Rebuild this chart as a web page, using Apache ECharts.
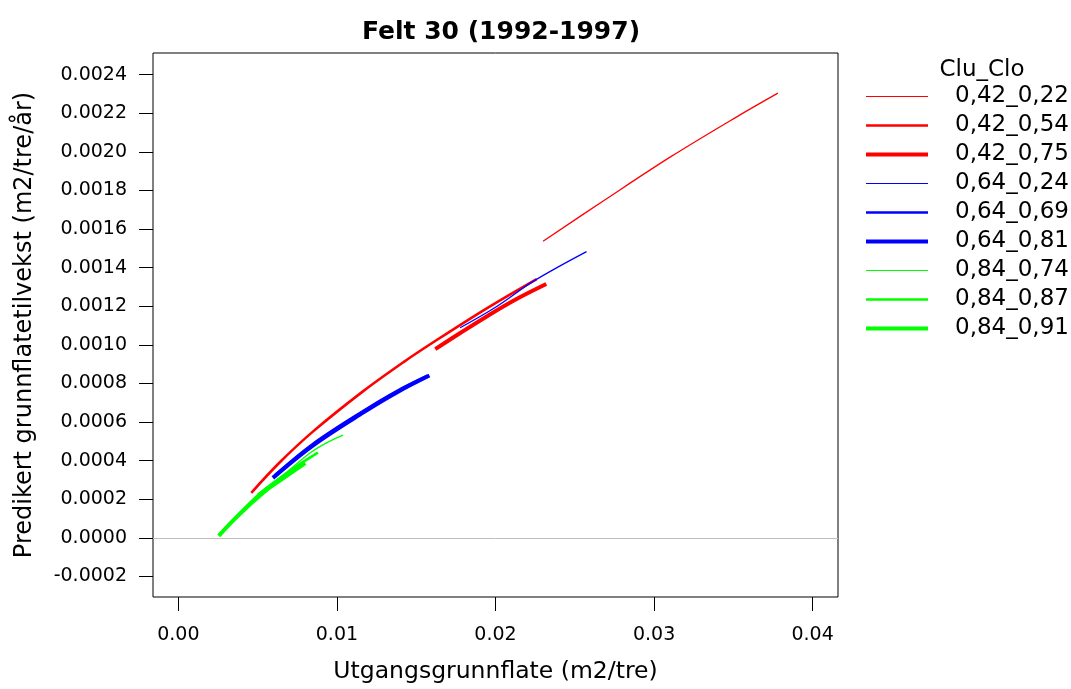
<!DOCTYPE html>
<html>
<head>
<meta charset="utf-8">
<script src="https://cdn.jsdelivr.net/npm/echarts@6/dist/echarts.min.js"></script>
<style>
html,body{margin:0;padding:0;background:#fff;}
#chart{width:1071px;height:689px;}
</style>
</head>
<body>
<div id="chart"></div>
<script>
// ---- data ----
var seriesNames = ['0,42_0,22','0,42_0,54','0,42_0,75','0,64_0,24','0,64_0,69','0,64_0,81','0,84_0,74','0,84_0,87','0,84_0,91'];

var x_042_022 = [0.02300, 0.02684, 0.03106, 0.03527, 0.03781];
var y_042_022 = [0.001537, 0.001748, 0.001975, 0.002184, 0.002304];

var x_042_054 = [0.00460, 0.00640, 0.00850, 0.01170, 0.01420, 0.01610, 0.01950, 0.02260];
var y_042_054 = [0.000234, 0.000392, 0.000552, 0.000763, 0.000911, 0.001015, 0.001192, 0.001341];

var x_042_075 = [0.01620, 0.01780, 0.01950, 0.02130, 0.02320];
var y_042_075 = [0.000978, 0.001063, 0.001150, 0.001236, 0.001315];

var x_064_024 = [0.01777, 0.02000, 0.02240, 0.02574];
var y_064_024 = [0.001089, 0.001195, 0.001330, 0.001483];

var x_064_069 = [0.00610, 0.00850, 0.01170, 0.01380, 0.01570];
var y_064_069 = [0.000326, 0.000488, 0.000660, 0.000762, 0.000840];

var x_064_081 = [0.00596, 0.00850, 0.01170, 0.01380, 0.01583];
var y_064_081 = [0.000311, 0.000480, 0.000652, 0.000755, 0.000841];

var x_084_074 = [0.00500, 0.00660, 0.00830, 0.00940, 0.01039];
var y_084_074 = [0.000228, 0.000325, 0.000440, 0.000495, 0.000533];

var x_084_087 = [0.00300, 0.00449, 0.00555, 0.00660, 0.00765, 0.00880];
var y_084_087 = [0.000052, 0.000180, 0.000258, 0.000322, 0.000382, 0.000442];

var x_084_091 = [0.00255, 0.00343, 0.00449, 0.00555, 0.00660, 0.00800];
var y_084_091 = [0.000011, 0.000088, 0.000172, 0.000248, 0.000308, 0.000388];

var xTicks = [0.00, 0.01, 0.02, 0.03, 0.04];
var yTicks = [-0.0002, 0.0000, 0.0002, 0.0004, 0.0006, 0.0008, 0.0010, 0.0012, 0.0014, 0.0016, 0.0018, 0.0020, 0.0022, 0.0024];

var seriesX = [x_042_022, x_042_054, x_042_075, x_064_024, x_064_069, x_064_081, x_084_074, x_084_087, x_084_091];
var seriesY = [y_042_022, y_042_054, y_042_075, y_064_024, y_064_069, y_064_081, y_084_074, y_084_087, y_084_091];

// ---- styles ----
var colors = ['#ff0000','#ff0000','#ff0000','#0000ff','#0000ff','#0000ff','#00ff00','#00ff00','#00ff00'];
var widths = [1.3, 2.6, 4, 1.3, 2.6, 4, 1.3, 2.6, 4];
var legendWidths = [1, 2.5, 4, 1, 2.5, 4, 1, 2.5, 4];
var FONT = 'DejaVu Sans';

function pairs(xs, ys){ var o=[]; for (var i=0;i<xs.length;i++) o.push([xs[i], ys[i]]); return o; }

var series = seriesNames.map(function(n, i){
  return {
    name: n, type: 'line', symbol: 'none', smooth: 0.35,
    data: pairs(seriesX[i], seriesY[i]),
    lineStyle: {color: colors[i], width: widths[i]},
    itemStyle: {color: colors[i]},
    emphasis: {disabled: true},
    z: 3
  };
});
series.unshift({
  name: 'zero', type: 'line', data: [], symbol: 'none', silent: true,
  markLine: {silent: true, symbol: ['none','none'], label: {show: false},
    lineStyle: {color: '#bebebe', width: 1, type: 'solid'},
    emphasis: {disabled: true},
    data: [{yAxis: 0}]},
  z: 1
});

var chart = echarts.init(document.getElementById('chart'), null, {renderer: 'canvas'});
chart.setOption({
  animation: false,
  backgroundColor: '#fff',
  title: [
    {text: 'Felt 30 (1992-1997)', left: 496, top: 15, textAlign: 'center',
     textStyle: {fontFamily: FONT, fontSize: 25, fontWeight: 'bold', color: '#000'}},
    {text: 'Clu_Clo', left: 977, top: 54, textAlign: 'center',
     textStyle: {fontFamily: FONT, fontSize: 23, fontWeight: 'normal', color: '#000'}}
  ],
  legend: {
    orient: 'vertical', left: 861, top: 80,
    itemWidth: 62, itemHeight: 13, itemGap: 6,
    selectedMode: false,
    textStyle: {fontFamily: FONT, fontSize: 23, lineHeight: 23, color: '#000', padding: [0,0,0,22]},
    data: seriesNames.map(function(n, i){
      return {name: n,
        icon: 'path://M0,0H62V' + legendWidths[i] + 'H0Z',
        itemStyle: {color: colors[i], borderWidth: 0}};
    })
  },
  grid: {left: 153, top: 53, width: 685, height: 552, show: true, borderColor: '#000', borderWidth: 1, containLabel: false},
  xAxis: {
    type: 'value', min: -0.0016, max: 0.0416,
    name: 'Utgangsgrunnflate (m2/tre)', nameLocation: 'middle', nameGap: 63,
    nameTextStyle: {fontFamily: FONT, fontSize: 23.5, color: '#000'},
    axisLine: {show: false, onZero: false},
    splitLine: {show: false},
    axisTick: {show: true, length: 14, lineStyle: {color: '#000'}, customValues: xTicks},
    axisLabel: {fontFamily: FONT, fontSize: 19, color: '#000', margin: 29, customValues: xTicks,
      formatter: function(v){ return v.toFixed(2); }}
  },
  yAxis: {
    type: 'value', min: -0.000306, max: 0.002512,
    name: 'Predikert grunnflatetilvekst (m2/tre/år)', nameLocation: 'middle', nameGap: 116,
    nameTextStyle: {fontFamily: FONT, fontSize: 24, color: '#000'},
    axisLine: {show: false, onZero: false},
    splitLine: {show: false},
    axisTick: {show: true, length: 14, lineStyle: {color: '#000'}, customValues: yTicks},
    axisLabel: {fontFamily: FONT, fontSize: 19, color: '#000', margin: 26, customValues: yTicks,
      formatter: function(v){ return v.toFixed(4); }}
  },
  series: series
});
</script>
</body>
</html>
